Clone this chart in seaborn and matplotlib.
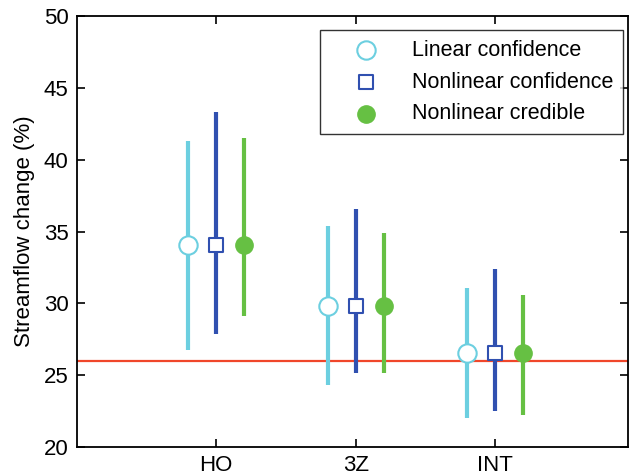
import numpy as np
import pandas as pd
import matplotlib
matplotlib.use("Agg")
import matplotlib.pyplot as plt
import seaborn as sns

sites = ["HO", "3Z", "INT"]
methods = ["Linear confidence", "Nonlinear confidence", "Nonlinear credible"]
center = {
    "Linear confidence": [34.05, 29.8, 26.55],
    "Nonlinear confidence": [34.05, 29.8, 26.55],
    "Nonlinear credible": [34.05, 29.8, 26.55],
}
lower = {
    "Linear confidence": [26.75, 24.3, 22.05],
    "Nonlinear confidence": [27.9, 25.15, 22.5],
    "Nonlinear credible": [29.1, 25.15, 22.2],
}
upper = {
    "Linear confidence": [41.3, 35.4, 31.1],
    "Nonlinear confidence": [43.3, 36.6, 32.4],
    "Nonlinear credible": [41.5, 34.9, 30.6],
}
reference_line = 26.0

colors = {"Linear confidence": "#6ccfe0", "Nonlinear confidence": "#3050b0", "Nonlinear credible": "#66c043"}
offsets = {"Linear confidence": -0.2, "Nonlinear confidence": 0.0, "Nonlinear credible": 0.2}

sns.set_style("ticks")
plt.rcParams["font.family"] = ["Liberation Sans", "DejaVu Sans"]
plt.rcParams["text.color"] = "black"
plt.rcParams["axes.labelcolor"] = "black"

rows = []
for m in methods:
    for i, s in enumerate(sites):
        rows.append(dict(method=m, site=s, x=i + 1 + offsets[m], y=center[m][i], lo=lower[m][i], hi=upper[m][i]))
df = pd.DataFrame(rows)

fig = plt.figure(figsize=(6.29, 4.75), dpi=100)
ax = fig.add_axes([0.122, 0.059, 0.876, 0.907])

ax.axhline(reference_line, color="#f0462a", lw=1.6, zorder=1)

for m in methods:
    d = df[df.method == m]
    ax.vlines(d.x, d.lo, d.hi, color=colors[m], lw=3.0, zorder=2)

styles = {
    "Linear confidence": dict(marker="o", s=175, facecolor="white", edgecolor=colors["Linear confidence"], linewidth=1.5),
    "Nonlinear confidence": dict(marker="s", s=115, facecolor="white", edgecolor=colors["Nonlinear confidence"], linewidth=1.5),
    "Nonlinear credible": dict(marker="o", s=155, facecolor=colors["Nonlinear credible"], edgecolor=colors["Nonlinear credible"], linewidth=1.0),
}
for m in methods:
    d = df[df.method == m]
    sns.scatterplot(data=d, x="x", y="y", ax=ax, label=m, zorder=3, **styles[m])

ax.set_xlim(0.0, 3.95)
ax.set_ylim(20, 50)
ax.set_xticks([1, 2, 3])
ax.set_xticklabels(sites)
ax.set_yticks([20, 25, 30, 35, 40, 45, 50])
ax.set_xlabel("")
ax.set_ylabel("Streamflow change (%)", fontsize=16, labelpad=6, color="black")
ax.tick_params(axis="both", which="both", direction="in", top=True, right=True, length=6, width=1.2,
               labelsize=16, colors="black", labelcolor="black", pad=6)
for sp in ax.spines.values():
    sp.set_visible(True)
    sp.set_linewidth(1.3)
    sp.set_color("black")

leg = ax.legend(loc="upper right", bbox_to_anchor=(1 - 5 / 551, 1 - 14 / 431), borderaxespad=0,
                fontsize=15.5, frameon=True, fancybox=False, edgecolor="black",
                borderpad=0.45, handletextpad=0.4, labelspacing=0.5, handlelength=3.4)
leg.get_frame().set_linewidth(1.0)
for t in leg.get_texts():
    t.set_color("black")

fig.savefig("out.png", dpi=100)
